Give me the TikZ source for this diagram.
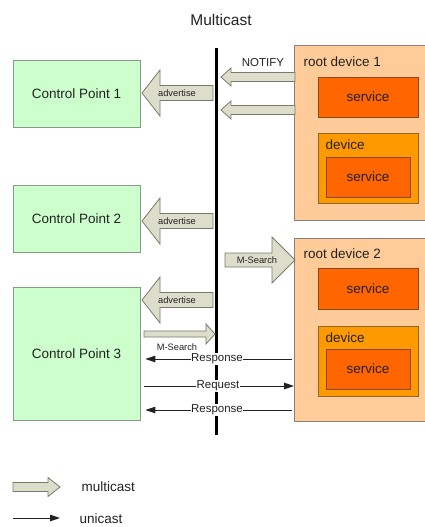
\documentclass[tikz,border=0pt]{standalone}
\usepackage{fontspec}
\setmainfont{Liberation Sans}
\usetikzlibrary{arrows.meta}

\definecolor{cpgreen}{HTML}{CCFFCC}
\definecolor{cpline}{HTML}{8A9A8A}
\definecolor{rootfill}{HTML}{FFCC99}
\definecolor{rootline}{HTML}{8A8278}
\definecolor{svcfill}{HTML}{FF6600}
\definecolor{svcline}{HTML}{8A4A20}
\definecolor{devfill}{HTML}{FF9900}
\definecolor{devline}{HTML}{8A6A30}
\definecolor{mcfill}{HTML}{DDDDCC}
\definecolor{mcline}{HTML}{7A7A6A}
\definecolor{ink}{HTML}{222222}

% horizontal block arrow: tip x, tail x, y, shaft half height, head half height, signed head length
\newcommand{\mcarrow}[6]{%
  \draw[mcstyle] (#1,#3) -- ({#1+(#6)},{#3-(#5)}) -- ({#1+(#6)},{#3-(#4)})
    -- (#2,{#3-(#4)}) -- (#2,{#3+(#4)}) -- ({#1+(#6)},{#3+(#4)})
    -- ({#1+(#6)},{#3+(#5)}) -- cycle;}

\tikzset{
  txt/.style={font=\fontsize{13.5}{16}\selectfont, text=ink},
  small/.style={font=\fontsize{9.3}{11}\selectfont, text=ink, inner sep=0pt},
  mid/.style={font=\fontsize{11.5}{13}\selectfont, text=ink},
  cpbox/.style={draw=cpline, fill=cpgreen, line width=0.8pt, txt},
  rootbox/.style={draw=rootline, fill=rootfill, line width=0.8pt, anchor=north west, inner sep=0pt},
  svcbox/.style={draw=svcline, fill=svcfill, line width=0.8pt, txt},
  devbox/.style={draw=devline, fill=devfill, line width=0.8pt, anchor=north west, inner sep=0pt},
  mcstyle/.style={draw=mcline, fill=mcfill, line width=0.8pt, line join=miter},
  uni/.style={draw=ink, line width=1pt, -{Triangle[length=10pt,width=6.5pt]}},
  bus/.style={draw=black, line width=3pt},
  tag/.style={mid, fill=white, inner sep=0.6pt}
}

\begin{document}
\begin{tikzpicture}[x=1pt,y=-1pt]
\useasboundingbox (0,0) rectangle (425,527);
\fill[white] (0,0) rectangle (425,527);

% title
\node[font=\fontsize{15.5}{18}\selectfont, text=ink] (title) at (221,20) {Multicast};

% control points
\node[cpbox, minimum width=127pt, minimum height=67pt] (cp1) at (76.5,93.5) {Control Point 1};
\node[cpbox, minimum width=127pt, minimum height=67pt] (cp2) at (76.5,218.5) {Control Point 2};
\node[cpbox, minimum width=127pt, minimum height=133pt] (cp3) at (76.5,353.5) {Control Point 3};

% root device 1
\node[rootbox, minimum width=134pt, minimum height=175pt] (rd1) at (294,45) {};
\node[txt, anchor=west] (rd1label) at (300,62) {root device 1};
\node[svcbox, minimum width=100pt, minimum height=40pt] (svc1) at (368,97) {service};
\node[devbox, minimum width=100pt, minimum height=70pt] (dev1) at (318,133) {};
\node[txt, anchor=west] (dev1label) at (322,145) {device};
\node[svcbox, minimum width=84pt, minimum height=40pt] (svc1b) at (368,177) {service};

% root device 2
\node[rootbox, minimum width=134pt, minimum height=183pt] (rd2) at (294,238) {};
\node[txt, anchor=west] (rd2label) at (300,254) {root device 2};
\node[svcbox, minimum width=100pt, minimum height=41pt] (svc2) at (368,288.5) {service};
\node[devbox, minimum width=100pt, minimum height=70pt] (dev2) at (318,326) {};
\node[txt, anchor=west] (dev2label) at (322,338) {device};
\node[svcbox, minimum width=84pt, minimum height=40pt] (svc2b) at (368,369) {service};

% network bus
\coordinate (bustop) at (216,48);
\coordinate (busbot) at (216,435);
\draw[bus] (bustop) -- (busbot);

% multicast traffic
\mcarrow{142}{213}{93}{7.5}{23}{18}
\node[small] (adv1) at (177,93) {advertise};
\mcarrow{142}{213}{221}{7.5}{23}{18}
\node[small] (adv2) at (177,221) {advertise};
\mcarrow{142}{213}{300}{7.5}{23}{18}
\node[small] (adv3) at (177,300) {advertise};

\mcarrow{221}{295}{77}{4.5}{9}{10}
\mcarrow{221}{295}{110}{4.5}{9}{10}
\node[mid] (notify) at (263,63) {NOTIFY};

\mcarrow{295}{225}{260}{7}{23}{-23}
\node[small] (ms1) at (257,260) {M-Search};

\mcarrow{215}{144}{334}{3}{10}{-9}
\node[small] (ms2) at (177,347) {M-Search};

% unicast traffic: end points on the device and control point edges
\path (rd2.west |- 0,359) coordinate (r1a);
\path (cp3.east |- 0,359) coordinate (r1b);
\path (cp3.east |- 0,386) coordinate (q1a);
\path (rd2.west |- 0,386) coordinate (q1b);
\path (rd2.west |- 0,410) coordinate (r2a);
\path (cp3.east |- 0,410) coordinate (r2b);
\draw[uni] ([xshift=-2pt]r1a) -- ([xshift=5pt]r1b);
\draw[uni] ([xshift=4pt]q1a) -- (q1b);
\draw[uni] ([xshift=-2pt]r2a) -- ([xshift=5pt]r2b);
\node[tag] (resp1) at (217,359) {Response};
\node[tag] (req) at (218,386) {Request};
\node[tag] (resp2) at (217,410) {Response};

% legend
\mcarrow{60}{13}{487}{4.5}{9.5}{-12}
\node[txt, anchor=west] (legmc) at (78,487) {multicast};
\coordinate (uniA) at (13,518);
\coordinate (uniB) at (60,518);
\draw[uni] (uniA) -- (uniB);
\node[txt, anchor=west] (leguni) at (76,519) {unicast};
\end{tikzpicture}
\end{document}
